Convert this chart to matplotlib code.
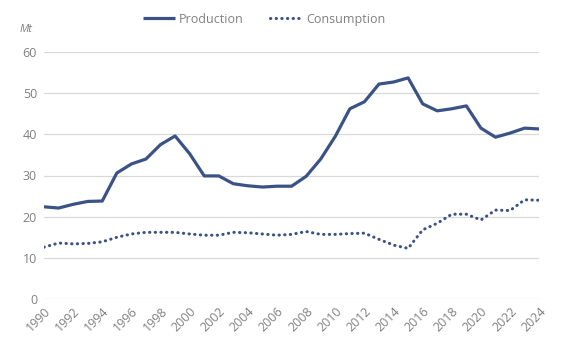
import matplotlib
matplotlib.use("Agg")
import matplotlib.pyplot as plt

years = list(range(1990, 2025))
production = [22.4, 22.1, 23.0, 23.7, 23.8, 30.6, 32.8, 34.0, 37.5, 39.6,
              35.3, 29.9, 29.9, 28.0, 27.5, 27.2, 27.4, 27.4, 29.8, 34.0,
              39.5, 46.2, 47.9, 52.2, 52.7, 53.7, 47.4, 45.7, 46.2, 46.9,
              41.5, 39.3, 40.3, 41.5, 41.3]
consumption = [12.6, 13.6, 13.4, 13.5, 13.9, 15.0, 15.8, 16.2, 16.2, 16.2,
               15.8, 15.5, 15.5, 16.2, 16.1, 15.8, 15.5, 15.7, 16.4, 15.7,
               15.7, 15.9, 16.0, 14.5, 13.1, 12.3, 16.8, 18.4, 20.6, 20.6,
               19.2, 21.6, 21.5, 24.1, 24.0]
xticks = list(range(1990, 2025, 2))
yticks = [0, 10, 20, 30, 40, 50, 60]

plt.rcParams['font.family'] = ['Open Sans', 'DejaVu Sans']
color = '#3A5285'
gray = '#808080'

fig = plt.figure(figsize=(5.64, 3.51), dpi=100)
ax = fig.add_axes([0.078, 0.148, 0.878, 0.704])
ax.plot(years, production, color=color, lw=2.3, label='Production', solid_capstyle='butt')
ax.plot(years, consumption, color=color, lw=2.2, ls=(0, (0.1, 1.75)), dash_capstyle='round',
        label='Consumption')
ax.set_xlim(1990, 2024)
ax.set_ylim(0, 60)
ax.set_yticks(yticks)
ax.set_xticks(xticks)
ax.set_xticklabels([str(x) for x in xticks], rotation=45, ha='right', rotation_mode='anchor')
ax.tick_params(axis='both', length=0, colors=gray, labelsize=9)
ax.tick_params(axis='x', pad=4)
ax.tick_params(axis='y', pad=5)
ax.grid(axis='y', color='#d9d9d9', lw=0.9)
ax.set_axisbelow(True)
for s in ax.spines.values():
    s.set_visible(False)
fig.text(0.034, 0.915, 'Mt', color=gray, fontsize=8, style='italic', va='center')
fig.legend(loc='center', bbox_to_anchor=(0.468, 0.945), ncol=2, frameon=False,
           fontsize=9, handlelength=2.6, columnspacing=2.1, handletextpad=0.3,
           labelcolor=gray)
fig.savefig('out.png', dpi=100)
